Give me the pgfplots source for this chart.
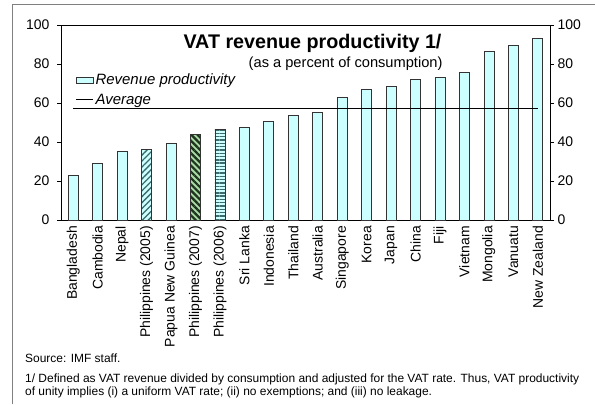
\documentclass[border=0pt]{standalone}
\usepackage{fontspec}
\setmainfont{Liberation Sans}
\usepackage{pgfplots}
\pgfplotsset{compat=1.18}
\usetikzlibrary{patterns.meta}

\definecolor{barcyan}{HTML}{CCFFFF}
\definecolor{baredge}{HTML}{333333}
\definecolor{hatchteal}{HTML}{3D6B6B}
\definecolor{barGreen}{HTML}{A9D9A4}
\definecolor{hatchdark}{HTML}{1C331C}
\definecolor{framegray}{HTML}{808080}

\begin{document}
\begin{tikzpicture}[x=1bp,y=1bp]
\useasboundingbox (0,0) rectangle (595,404);
% outer frame (top and left only)
\draw[framegray, line width=0.8bp] (12,0) -- (12,400) -- (595,400);

\begin{axis}[
    at={(61bp,184bp)}, anchor=south west,
    scale only axis, width=489bp, height=195bp,
    xmin=-0.5, xmax=19.5, ymin=0, ymax=100,
    ytick={0,20,...,100}, ytick pos=left,
    xtick={0,...,19},
    xticklabels={Bangladesh, Cambodia, Nepal, Philippines (2005), Papua New Guinea,
        Philippines (2007), Philippines (2006), Sri Lanka, Indonesia, Thailand,
        Australia, Singapore, Korea, Japan, China, Fiji, Vietnam, Mongolia,
        Vanuatu, New Zealand},
    x tick style={draw=none},
    minor xtick={-0.5,0.5,...,19.5},
    xtick pos=bottom,
    tick align=outside,
    major tick length=4bp, minor tick length=4bp,
    xticklabel style={rotate=90, anchor=east, font=\fontsize{14}{16}\selectfont, inner sep=2bp},
    yticklabel style={font=\fontsize{14}{16}\selectfont, xshift=-4bp},
    /pgf/number format/assume math mode=true,
    axis line style={black, line width=0.7bp},
    tick style={black, line width=0.7bp},
    legend style={at={(0.028,0.765)}, anchor=north west, draw=none, fill=none,
        font=\itshape\fontsize{15}{17}\selectfont, row sep=3.5bp, inner sep=1bp,
        cells={anchor=west}},
    legend cell align=left,
]
    % regular bars
    \addplot[ybar, bar width=10bp, bar shift=0pt, fill=barcyan, draw=baredge,
        line width=0.7bp, area legend] coordinates {
        (0,23.0) (1,29.0) (2,35.0) (4,39.3) (7,47.3) (8,50.5) (9,53.6)
        (10,55.1) (11,62.7) (12,67.1) (13,68.7) (14,71.9) (15,72.9)
        (16,75.7) (17,86.3) (18,89.5) (19,93.1)
    };
    \addlegendentry{Revenue productivity}
    % average
    \addplot[black, line width=0.7bp] coordinates {(0,57.4) (19,57.4)};
    \addlegendentry{Average}
    % Philippines (2005)
    \addplot[ybar, bar width=10bp, bar shift=0pt, fill=barcyan, draw=baredge,
        line width=0.7bp, forget plot,
        postaction={pattern={Lines[angle=45,distance=4.2bp,line width=1.3bp]}, pattern color=hatchteal}]
        coordinates {(3,36.3)};
    % Philippines (2007)
    \addplot[ybar, bar width=10bp, bar shift=0pt, fill=barGreen, draw=baredge,
        line width=0.7bp, forget plot,
        postaction={pattern={Lines[angle=-45,distance=4.4bp,line width=2.2bp]}, pattern color=hatchdark}]
        coordinates {(5,44.0)};
    % Philippines (2006)
    \addplot[ybar, bar width=10bp, bar shift=0pt, fill=barcyan, draw=baredge,
        line width=0.7bp, forget plot,
        postaction={pattern={Lines[angle=0,distance=3.3bp,line width=1.4bp]}, pattern color=hatchteal}]
        coordinates {(6,46.6)};
\end{axis}

% right-hand axis with the same scale
\begin{axis}[
    at={(61bp,184bp)}, anchor=south west,
    scale only axis, width=489bp, height=195bp,
    xmin=-0.5, xmax=19.5, ymin=0, ymax=100,
    hide x axis,
    ytick={0,20,...,100}, ytick pos=right,
    tick align=outside, major tick length=4bp,
    yticklabel style={font=\fontsize{14}{16}\selectfont},
    /pgf/number format/assume math mode=true,
    axis line style={black, line width=0.7bp},
    tick style={black, line width=0.7bp},
]
    \addplot[draw=none] coordinates {(0,0)};
\end{axis}

% title and subtitle
\node[anchor=base east, font=\bfseries\fontsize{19.8}{22}\selectfont] at (445,356) {VAT revenue productivity 1/};
\node[anchor=base east, font=\fontsize{14.7}{16}\selectfont] at (446,337) {(as a percent of consumption)};

% notes
\node[anchor=base west, inner sep=0pt, font=\fontsize{12}{14}\selectfont] at (25,42) {Source: IMF staff.};
\node[anchor=base west, inner sep=0pt, font=\fontsize{12}{14}\selectfont] at (25,22) {1/ Defined as VAT revenue divided by consumption and adjusted for the VAT rate. Thus, VAT productivity};
\node[anchor=base west, inner sep=0pt, font=\fontsize{12}{14}\selectfont] at (25,9) {of unity implies (i) a uniform VAT rate; (ii) no exemptions; and (iii) no leakage.};
\end{tikzpicture}
\end{document}
